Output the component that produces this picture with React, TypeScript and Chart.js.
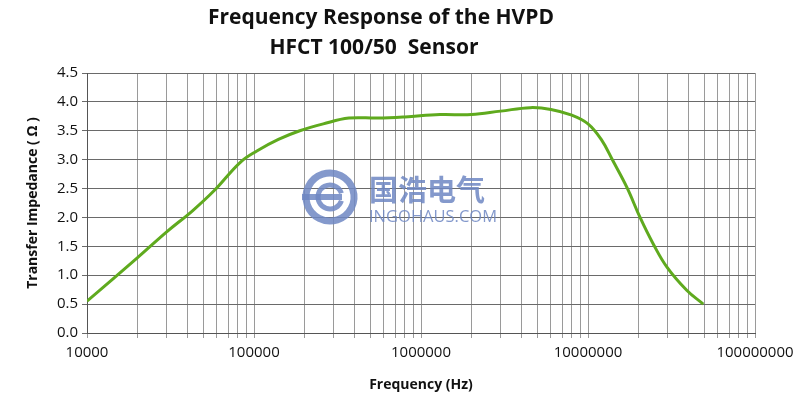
import React, { useEffect, useRef } from "react";
import { Chart, registerables } from "chart.js";

Chart.register(...registerables);

const titleLines = ["Frequency Response of the HVPD", "HFCT 100/50  Sensor"];
const xAxisTitle = "Frequency (Hz)";
const yAxisTitle = "Transfer Impedance ( \u03A9 )";
const watermarkCn = "国浩电气";
const watermarkEn = "INGOHAUS.COM";

const freqHz = [
  1e4, 2e4, 3e4, 4.3e4, 5.8e4, 8.25e4, 1.04e5, 1.4e5, 1.88e5, 2.6e5, 3.7e5, 5.5e5,
  8e5, 1.3e6, 2e6, 3e6, 4.5e6, 6e6, 8e6, 1e7, 1.2e7, 1.41e7, 1.71e7, 2.05e7, 2.45e7,
  2.97e7, 3.9e7, 4.9e7,
];
const impedance = [
  0.55, 1.3, 1.75, 2.12, 2.47, 2.95, 3.15, 3.35, 3.5, 3.62, 3.72, 3.72,
  3.74, 3.78, 3.78, 3.84, 3.9, 3.87, 3.77, 3.62, 3.35, 2.98, 2.52, 2.0, 1.55,
  1.14, 0.74, 0.5,
];

const xMin = 1e4;
const xMax = 1e8;
const yMin = 0;
const yMax = 4.5;
const yStep = 0.5;

const xTickValues: number[] = [];
for (let e = 4; e < 8; e++) {
  for (let k = 1; k <= 9; k++) xTickValues.push(k * Math.pow(10, e));
}
xTickValues.push(1e8);

const titlePlugin = {
  id: "customTitle",
  afterDraw(chart: any) {
    const ctx = chart.ctx;
    ctx.save();
    ctx.fillStyle = "#111";
    ctx.font = "bold 21px 'Open Sans'";
    ctx.textAlign = "center";
    ctx.textBaseline = "middle";
    ctx.fillText(titleLines[0], 381, 18, 352);
    ctx.fillText(titleLines[1], 374, 48, 242);
    ctx.restore();
  },
};

const watermarkPlugin = {
  id: "watermark",
  beforeDatasetsDraw(chart: any) {
    const ctx = chart.ctx;
    ctx.save();
    const col = "rgba(110,135,195,0.85)";
    ctx.strokeStyle = col;
    ctx.fillStyle = col;
    const cx = 330, cy = 197;
    ctx.lineWidth = 7;
    ctx.beginPath();
    ctx.arc(cx, cy, 24, -Math.PI * 0.35, Math.PI * 1.65);
    ctx.stroke();
    ctx.lineWidth = 5;
    ctx.beginPath();
    ctx.arc(cx, cy, 12, Math.PI * 0.1, Math.PI * 1.9);
    ctx.stroke();
    ctx.fillRect(302, cy - 3, 40, 6);
    ctx.font = "bold 29px 'Noto Sans CJK SC'";
    ctx.textAlign = "left";
    ctx.textBaseline = "middle";
    ctx.fillText(watermarkCn, 369, 190, 129);
    ctx.font = "17px 'Open Sans'";
    ctx.fillText(watermarkEn, 369, 217, 128);
    ctx.restore();
  },
};

export default function App() {
  const ref = useRef<HTMLCanvasElement>(null);
  useEffect(() => {
    if (!ref.current) return;
    const chart = new Chart(ref.current, {
      type: "line",
      data: {
        datasets: [
          {
            data: freqHz.map((f, i) => ({ x: f, y: impedance[i] })),
            borderColor: "#5faa1e",
            borderWidth: 3,
            pointRadius: 0,
            fill: false,
            tension: 0.4,
          },
        ],
      },
      options: {
        responsive: false,
        animation: false,
        layout: { padding: { top: 73, right: 45, left: 21, bottom: 2 } },
        plugins: { legend: { display: false }, tooltip: { enabled: false }, title: { display: false } },
        scales: {
          x: {
            type: "logarithmic",
            min: xMin,
            max: xMax,
            afterBuildTicks(scale: any) {
              scale.ticks = xTickValues.map((v) => ({ value: v }));
            },
            afterFit(scale: any) {
              scale.height = 64;
            },
            ticks: {
              autoSkip: false,
              maxRotation: 0,
              padding: 6,
              color: "#111",
              font: { family: "'Open Sans'", size: 15 },
              callback: (v: any) => {
                const val = Number(v);
                const lg = Math.log10(val);
                return Math.abs(lg - Math.round(lg)) < 1e-9 ? String(Math.round(val)) : "";
              },
            },
            grid: { color: "#9a9a9a", lineWidth: 1, tickLength: 5 },
            border: { color: "#555", width: 1 },
            title: {
              display: true,
              text: xAxisTitle,
              color: "#111",
              font: { family: "'Open Sans'", size: 14, weight: "bold" },
            },
          },
          y: {
            min: yMin,
            max: yMax,
            afterFit(scale: any) {
              scale.width = 87 - 21;
            },
            ticks: {
              stepSize: yStep,
              padding: 4,
              color: "#111",
              font: { family: "'Open Sans'", size: 15 },
              callback: (v: any) => Number(v).toFixed(1),
            },
            grid: { color: "#6a6a6a", lineWidth: 1, tickLength: 5 },
            border: { color: "#555", width: 1 },
            title: {
              display: true,
              text: yAxisTitle,
              color: "#111",
              font: { family: "'Open Sans'", size: 14, weight: "bold" },
            },
          },
        },
      } as any,
      plugins: [watermarkPlugin, titlePlugin],
    });
    return () => chart.destroy();
  }, []);
  return (
    <div style={{ position: "fixed", left: 0, top: 0, width: 800, height: 399, background: "#fff" }}>
      <canvas ref={ref} width={800} height={399} style={{ display: "block" }} />
    </div>
  );
}
